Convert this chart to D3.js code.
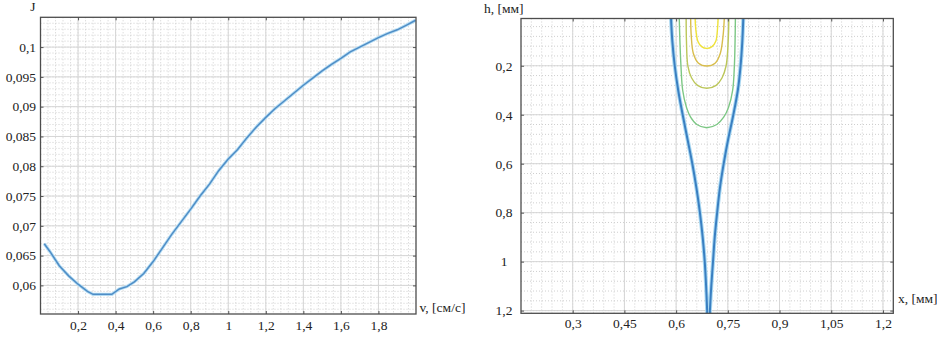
<!DOCTYPE html>
<html>
<head>
<meta charset="utf-8">
<script src="https://cdn.jsdelivr.net/npm/d3@7"></script>
<style>
  body { margin: 0; background: #fff; }
  svg { display: block; font-family: "Liberation Serif", "Times New Roman", serif; }
  svg text { font-family: "Liberation Serif", "Times New Roman", serif; }
</style>
</head>
<body>
<svg id="chart" width="937" height="338"></svg>
<script>
// left panel: J against v
const speed = [0.02, 0.05, 0.10, 0.15, 0.20, 0.25, 0.28, 0.33, 0.38, 0.42, 0.46, 0.50, 0.55, 0.60,
  0.65, 0.70, 0.75, 0.80, 0.85, 0.90, 0.95, 1.00, 1.05, 1.10, 1.15, 1.20, 1.25, 1.30, 1.35, 1.40,
  1.45, 1.50, 1.55, 1.60, 1.65, 1.70, 1.75, 1.80, 1.85, 1.90, 1.95, 1.998];
const jValue = [0.0670, 0.0657, 0.0633, 0.0616, 0.0602, 0.0590, 0.0585, 0.0585, 0.0585, 0.0594, 0.0598, 0.0606, 0.0620, 0.0640,
  0.0663, 0.0686, 0.0707, 0.0728, 0.0750, 0.0770, 0.0793, 0.0812, 0.0828, 0.0848, 0.0866, 0.0882, 0.0897, 0.0910, 0.0923, 0.0936,
  0.0948, 0.0960, 0.0971, 0.0981, 0.0992, 0.1000, 0.1008, 0.1016, 0.1023, 0.1029, 0.1037, 0.1045];
const leftXTicks = [0.2, 0.4, 0.6, 0.8, 1, 1.2, 1.4, 1.6, 1.8];
const leftYTicks = [0.06, 0.065, 0.07, 0.075, 0.08, 0.085, 0.09, 0.095, 0.1];

// right panel: contour lines, [x, h] pairs
const contourOuter = [[0.585, 0], [0.589, 0.1], [0.596, 0.2], [0.606, 0.3], [0.619, 0.4], [0.633, 0.5],
  [0.647, 0.6], [0.659, 0.7], [0.669, 0.8], [0.677, 0.9], [0.683, 1.0], [0.687, 1.1], [0.690, 1.2], [0.691, 1.23],
  [0.697, 1.23], [0.698, 1.2], [0.702, 1.1], [0.707, 1.0], [0.712, 0.9], [0.719, 0.8], [0.727, 0.7],
  [0.738, 0.6], [0.751, 0.5], [0.766, 0.4], [0.779, 0.3], [0.787, 0.2], [0.792, 0.1], [0.795, 0]];
const contourGreen = [[0.609, 0], [0.611, 0.1], [0.614, 0.2], [0.619, 0.3], [0.630, 0.37], [0.642, 0.41], [0.660, 0.44],
  [0.689, 0.453], [0.718, 0.44], [0.738, 0.41], [0.752, 0.37], [0.764, 0.3], [0.769, 0.2], [0.771, 0.1], [0.772, 0]];
const contourLime = [[0.629, 0], [0.630, 0.1], [0.634, 0.2], [0.645, 0.25], [0.662, 0.28], [0.689, 0.292],
  [0.716, 0.28], [0.733, 0.25], [0.745, 0.2], [0.751, 0.1], [0.753, 0]];
const contourGold = [[0.642, 0], [0.644, 0.08], [0.650, 0.15], [0.665, 0.19], [0.689, 0.201],
  [0.713, 0.19], [0.728, 0.15], [0.736, 0.08], [0.740, 0]];
const contourYellow = [[0.655, 0], [0.657, 0.05], [0.663, 0.1], [0.674, 0.122], [0.689, 0.129],
  [0.704, 0.122], [0.715, 0.1], [0.720, 0.05], [0.722, 0]];
const innerContours = [contourGreen, contourLime, contourGold, contourYellow];
const innerColors = ["#7cc784", "#bcc75a", "#d8bd4c", "#eee23a"];
const rightXTicks = [0.3, 0.45, 0.6, 0.75, 0.9, 1.05, 1.2];
const rightYTicks = [0.2, 0.4, 0.6, 0.8, 1, 1.2];

const svg = d3.select("#chart");
const serif = "'Liberation Serif', 'Times New Roman', serif";
const comma = d => String(+d.toFixed(4)).replace(".", ",");

// plot box of a panel from its scales
const box = (xScale, yScale) => {
  const [x0, x1] = d3.extent(xScale.range());
  const [y0, y1] = d3.extent(yScale.range());
  return { x0, x1, y0, y1 };
};

/**
 * draws minor and major grid of one panel plus its clip path
 */
function drawGrid(xScale, yScale, xMinor, yMinor, xTicks, yTicks, clipId) {
  const { x0, x1, y0, y1 } = box(xScale, yScale);
  const g = svg.append("g");

  svg.append("defs").append("clipPath").attr("id", clipId)
    .append("rect").attr("x", x0).attr("y", y0).attr("width", x1 - x0).attr("height", y1 - y0);

  // minor grid
  g.selectAll(".xm").data(xMinor).enter().append("line")
    .attr("x1", d => xScale(d)).attr("x2", d => xScale(d)).attr("y1", y0).attr("y2", y1)
    .attr("stroke", "#cfcfcf").attr("stroke-dasharray", "1,2");
  g.selectAll(".ym").data(yMinor).enter().append("line")
    .attr("y1", d => yScale(d)).attr("y2", d => yScale(d)).attr("x1", x0).attr("x2", x1)
    .attr("stroke", "#cfcfcf").attr("stroke-dasharray", "1,2");

  // major grid
  g.selectAll(".xg").data(xTicks).enter().append("line")
    .attr("x1", d => xScale(d)).attr("x2", d => xScale(d)).attr("y1", y0).attr("y2", y1)
    .attr("stroke", "#d6d6d6");
  g.selectAll(".yg").data(yTicks).enter().append("line")
    .attr("y1", d => yScale(d)).attr("y2", d => yScale(d)).attr("x1", x0).attr("x2", x1)
    .attr("stroke", "#d6d6d6");

  return g;
}

/**
 * frame with inward ticks on all four sides, labels bottom and left
 */
function drawAxes(xScale, yScale, xTicks, yTicks, xPad, yPad) {
  const { x0, x1, y0, y1 } = box(xScale, yScale);

  const bottom = svg.append("g").attr("transform", `translate(0,${y1})`)
    .call(d3.axisBottom(xScale).tickValues(xTicks).tickSizeInner(-3).tickSizeOuter(0).tickPadding(xPad).tickFormat(comma));
  const top = svg.append("g").attr("transform", `translate(0,${y0})`)
    .call(d3.axisTop(xScale).tickValues(xTicks).tickSizeInner(-3).tickSizeOuter(0).tickFormat(""));
  const left = svg.append("g").attr("transform", `translate(${x0},0)`)
    .call(d3.axisLeft(yScale).tickValues(yTicks).tickSizeInner(-3).tickSizeOuter(0).tickPadding(yPad).tickFormat(comma));
  const right = svg.append("g").attr("transform", `translate(${x1},0)`)
    .call(d3.axisRight(yScale).tickValues(yTicks).tickSizeInner(-3).tickSizeOuter(0).tickFormat(""));

  [bottom, top, left, right].map((axis) => {
    axis.attr("font-family", serif).attr("font-size", 13.5);
    axis.select(".domain").remove();
    axis.selectAll(".tick line").attr("stroke", "#555");
    axis.selectAll(".tick text").attr("fill", "#222");
    return true;
  });

  svg.append("rect")
    .attr("x", x0).attr("y", y0).attr("width", x1 - x0).attr("height", y1 - y0)
    .attr("fill", "none").attr("stroke", "#4d4d4d").attr("stroke-width", 1.3);

  return { bottom, left };
}

function label(x, y, text, anchor) {
  svg.append("text").attr("x", x).attr("y", y)
    .attr("text-anchor", anchor || "start")
    .attr("font-family", serif).attr("font-size", 13.5).attr("fill", "#222")
    .text(text);
}

// ---------- left panel ----------
const xL = d3.scaleLinear().domain([0, 2]).range([40.5, 416]);
const yL = d3.scaleLinear().domain([0.0552, 0.105]).range([314, 17.3]);

drawGrid(xL, yL,
  d3.range(0.04, 2, 0.04), d3.range(0.056, 0.105, 0.001),
  leftXTicks, leftYTicks, "clipL");

const jLine = d3.line().x((d, i) => xL(speed[i])).y(d => yL(d));
svg.append("path").datum(jValue)
  .attr("fill", "none").attr("stroke", "#b4dcf3").attr("stroke-width", 3.2)
  .attr("clip-path", "url(#clipL)").attr("d", jLine);
svg.append("path").datum(jValue)
  .attr("fill", "none").attr("stroke", "#4f8dc6").attr("stroke-width", 1.5)
  .attr("clip-path", "url(#clipL)").attr("d", jLine);

drawAxes(xL, yL, leftXTicks, leftYTicks, 6.4, 4.5);

label(33, 11, "J", "middle");
label(419.5, 312, "v, [см/с]");

// ---------- right panel ----------
const xR = d3.scaleLinear().domain([0.15, 1.23]).range([521, 893.3]);
const yR = d3.scaleLinear().domain([0.007, 1.211]).range([18.5, 313.3]);

drawGrid(xR, yR,
  d3.range(0.18, 1.23, 0.03), d3.range(0.04, 1.21, 0.04),
  rightXTicks, rightYTicks, "clipR");

const cLine = d3.line().x(d => xR(d[0])).y(d => yR(d[1])).curve(d3.curveCatmullRom);
const contours = svg.append("g").attr("clip-path", "url(#clipR)");

innerContours.map((c, i) => {
  contours.append("path").datum(c)
    .attr("fill", "none").attr("stroke", innerColors[i]).attr("stroke-width", 1.4)
    .attr("d", cLine);
  return true;
});

contours.append("path").datum(contourOuter)
  .attr("fill", "none").attr("stroke", "#a9d8f2").attr("stroke-width", 4)
  .attr("d", cLine);
contours.append("path").datum(contourOuter)
  .attr("fill", "none").attr("stroke", "#3a7fc1").attr("stroke-width", 2)
  .attr("d", cLine);

const axR = drawAxes(xR, yR, rightXTicks, rightYTicks, 5.1, 8);
axR.left.selectAll(".tick text").attr("text-anchor", "middle").attr("x", -17);

label(484, 12.5, "h, [мм]");
label(898, 303, "x, [мм]");
</script>
</body>
</html>
